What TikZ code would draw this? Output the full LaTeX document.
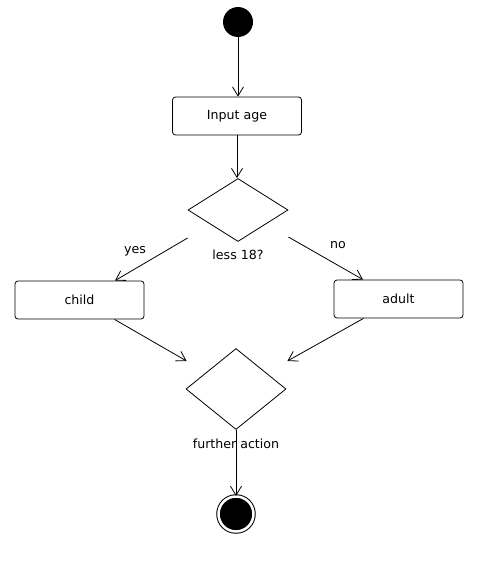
\documentclass[tikz,border=0pt]{standalone}
\usepackage{fontspec}
\setmainfont{DejaVu Sans}
\usepackage{tikz}
\usetikzlibrary{positioning,arrows.meta,shapes.geometric,calc}
\tikzset{
  act/.style ={rectangle, draw=black, rounded corners=3pt, line width=0.8pt, minimum width=129pt, minimum height=38pt, inner sep=0pt},
  dec/.style ={diamond, draw=black, line width=0.8pt, minimum width=100pt, inner sep=0pt},
  initial/.style={circle, fill=black, minimum size=30pt, inner sep=0pt},
  final/.style={circle, fill=black, draw=black, line width=1pt, double=white, double distance=2.5pt, minimum size=35pt, inner sep=0pt},
  flow/.style={-{Straight Barb[length=9pt,width=11pt]}, line width=0.8pt},
  txt/.style ={inner sep=0pt},
}

\begin{document}
\begin{tikzpicture}[x=1pt, y=-1pt, font=\fontsize{12.6}{14}\selectfont]
        \useasboundingbox (0,0) rectangle (493,562);
        \node[initial] (S)  at (238,22)    {};
        \node[act]     (IN) at (237,116)   {Input age};
        \node[dec, minimum height=63pt] (D1) at (238,210) {};
        \node[txt]     (Q)  at (238,255)   {less 18?};
        \node[act]     (CH) at (79.5,300)  {child};
        \node[act]     (AD) at (398.5,299) {adult};
        \node[txt]     (YS) at (135,251)   {yes};
        \node[txt]     (NO) at (338,245)   {no};
        \node[dec, minimum height=81pt] (D2) at (236,389) {};
        \node[txt]     (FA) at (236,444)   {further action};
        \node[final]   (E)  at (236,514)   {};
        \draw[flow] (S) -- (S |- IN.north);
        \draw[flow] (IN) -- (IN |- D1.north);
        \draw[flow] ($(D1.west)+(0,28)$) -- ($(CH.north)+(35.5,0)$);
        \draw[flow] ($(D1.east)+(0,27)$) -- ($(AD.north)+(-35.5,0)$);
        \draw[flow] ($(CH.south)+(35,0)$) -- ($(D2.west)+(1,-28)$);
        \draw[flow] ($(AD.south)+(-35,0)$) -- ($(D2.east)+(1,-28)$);
        \draw[flow] (D2) -- (E);
      \end{tikzpicture}
\end{document}
